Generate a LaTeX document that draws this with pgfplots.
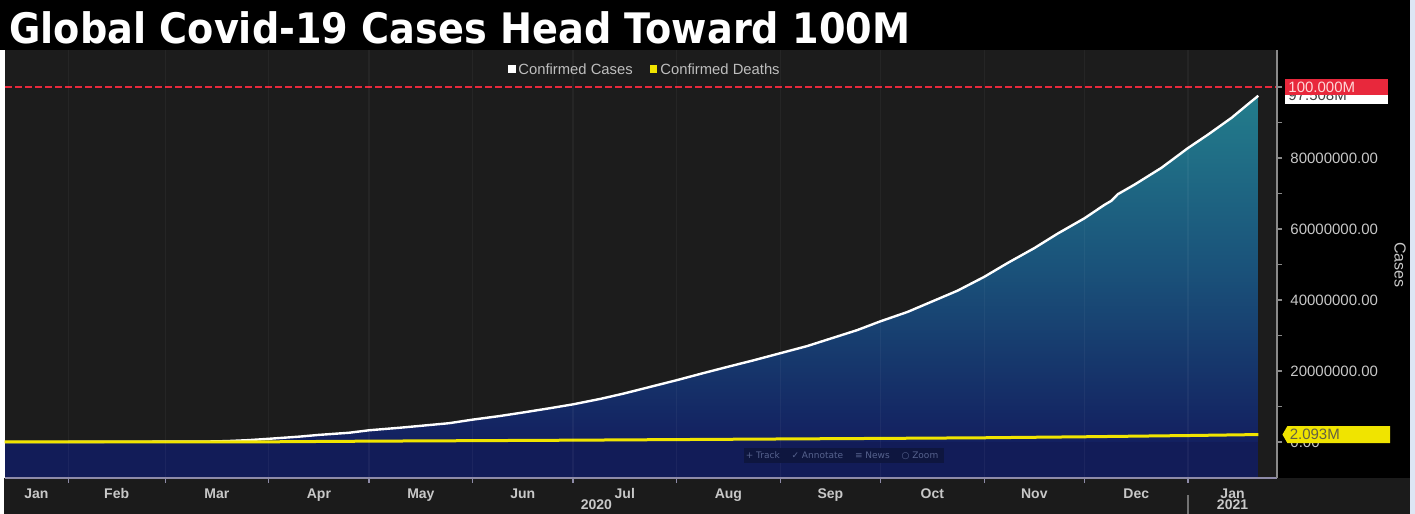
\documentclass[border=0pt]{standalone}
\usepackage{fontspec}
\setmainfont{Liberation Sans}
\newfontfamily\titlefont{DejaVu Sans}[FakeStretch=0.91]
\newfontfamily\symfont{DejaVu Sans}
\usepackage{pgfplots}
\pgfplotsset{compat=1.18}
\usepackage{pgfplotstable}
\usetikzlibrary{shapes.symbols}

\definecolor{bgplot}{HTML}{1C1C1C}
\definecolor{bgbottom}{HTML}{1B1B1B}
\definecolor{teal1}{HTML}{237D8C}
\definecolor{tealmid}{HTML}{1A527A}
\definecolor{navy1}{HTML}{132060}
\definecolor{navy0}{HTML}{121C58}
\definecolor{deathy}{HTML}{F0E400}
\definecolor{redline}{HTML}{E8283C}
\definecolor{ticktxt}{HTML}{C8C8C8}
\definecolor{legtxt}{HTML}{BEBEBE}
\definecolor{xline}{HTML}{8E8BA8}
\definecolor{yline}{HTML}{8A8A8A}
\definecolor{edge}{HTML}{DDE6F4}
\definecolor{toolbg}{HTML}{0E163F}
\definecolor{tooltxt}{HTML}{56628E}

% days since 1 Jan 2020
\pgfplotstableread{
day cases
12 0
21 555
31 12000
45 67000
60 88000
70 110000
75 170000
79 270000
85 530000
91 900000
100 1500000
106 2000000
115 2600000
121 3300000
130 4000000
137 4600000
145 5300000
152 6300000
160 7300000
167 8300000
175 9500000
182 10600000
190 12100000
197 13600000
205 15500000
213 17400000
221 19400000
228 21100000
236 23000000
244 25000000
252 27000000
259 29100000
267 31500000
274 34000000
282 36600000
289 39400000
297 42600000
305 46500000
312 50400000
320 54600000
327 58700000
335 63000000
341 66800000
343 67900000
345 69800000
350 72500000
358 77200000
366 82800000
372 86600000
379 91300000
384 95200000
387 97508000
}\casesdata

\pgfplotstableread{
day deaths
12 0
21 17
45 1500
60 3000
75 7000
91 47000
106 145000
121 235000
152 372000
182 510000
213 680000
244 850000
274 1010000
305 1190000
335 1470000
366 1820000
387 2093000
}\deathsdata

\begin{document}
\begin{tikzpicture}
\useasboundingbox (0,0) rectangle (707.5pt,257pt);
% backgrounds
\fill[black] (0,232pt) rectangle (707.5pt,257pt);
\fill[white] (0,0) rectangle (2pt,232pt);
\fill[bgbottom] (2pt,0) rectangle (705pt,18pt);
\fill[bgplot] (2.5pt,18pt) rectangle (638.5pt,232pt);
\fill[black] (638.5pt,18pt) rectangle (705pt,232pt);
\fill[edge] (705pt,0) rectangle (707.5pt,257pt);

\node[anchor=base west, text=white, inner sep=0,
      font=\titlefont\bfseries\fontsize{21}{24}\selectfont]
  at (4.5pt,235pt) {Global Covid-19 Cases Head Toward 100M};

\begin{axis}[
    at={(2.5pt,18pt)}, anchor=south west,
    scale only axis, width=636pt, height=214pt,
    xmin=12.1, xmax=392.6,
    ymin=-10.14e6, ymax=110.4e6,
    clip=false, axis on top,
    axis x line*=bottom, axis y line*=right,
    x axis line style={draw=xline, line width=0.8pt},
    y axis line style={draw=yline, line width=0.8pt},
    tick align=outside,
    major tick length=2.5pt, minor tick length=2.5pt,
    xtick={21.5,45.5,75.5,106,136.5,167,197.5,228.5,259,289.5,320,350.5,379.3},
    xticklabels={Jan,Feb,Mar,Apr,May,Jun,Jul,Aug,Sep,Oct,Nov,Dec,Jan},
    major x tick style={draw=none},
    minor xtick={31,60,91,121,152,182,213,244,274,305,335,366},
    minor x tick style={draw=xline, line width=0.6pt},
    xminorgrids=true,
    minor x grid style={draw=white, opacity=0.045, line width=0.6pt},
    ytick={0,2e7,4e7,6e7,8e7,1e8},
    yticklabels={0.00,20000000.00,40000000.00,60000000.00,80000000.00,100000000.00},
    minor ytick={1e7,3e7,5e7,7e7,9e7},
    y tick style={draw=yline, line width=0.6pt},
    scaled y ticks=false,
    xticklabel style={anchor=base, yshift=-8pt, text=ticktxt,
                      font=\bfseries\fontsize{7}{8}\selectfont},
    yticklabel style={anchor=west, inner sep=0pt, xshift=4pt, text=ticktxt,
                      font=\fontsize{7.5}{8}\selectfont},
    /pgf/number format/assume math mode=true,
]
\addplot[draw=none, fill=navy0, forget plot]
  coordinates {(12.1,-10.14e6) (387,-10.14e6) (387,0.3e6) (12.1,0.3e6)} -- cycle;
\addplot[draw=none, top color=teal1, bottom color=navy1, middle color=tealmid]
  table[x=day, y=cases] {\casesdata} \closedcycle;
\addplot[white, line width=1.2pt] table[x=day, y=cases] {\casesdata};
\addplot[deathy, line width=1.5pt] table[x=day, y=deaths] {\deathsdata};
\addplot[redline, line width=1.4pt, dash pattern=on 3.5pt off 1.5pt]
  coordinates {(12.1,1e8) (394.5,1e8)};

\coordinate (c100) at (axis cs:392.6,1e8);
\coordinate (clast) at (axis cs:392.6,97.508e6);
\coordinate (dlast) at (axis cs:392.6,2.093e6);
\coordinate (yr20) at (axis cs:189,-10.14e6);
\coordinate (yr21) at (axis cs:379.3,-10.14e6);
\coordinate (sep21) at (axis cs:366,-10.14e6);
\end{axis}

% value labels on the right axis
\node[anchor=west, fill=white, text=black!75, minimum width=51.5pt, minimum height=7.5pt,
      inner sep=1.5pt, align=left, text width=48.5pt,
      font=\fontsize{7.5}{8}\selectfont] at ([xshift=4pt]clast) {97.508M};
\node[anchor=west, fill=redline, text=red!15, minimum width=51.5pt, minimum height=7.5pt,
      inner sep=1.5pt, align=left, text width=48.5pt,
      font=\fontsize{7.5}{8}\selectfont] at ([xshift=4pt]c100) {100.000M};
\node[signal, signal to=west, signal pointer angle=120, anchor=west, fill=deathy,
      text=black!70!yellow, minimum width=53.5pt, minimum height=8.5pt,
      inner sep=1.2pt, align=left, text width=49pt,
      font=\fontsize{7.5}{8}\selectfont] at ([xshift=2.5pt]dlast) {2.093M};

\node[rotate=-90, text=ticktxt, font=\fontsize{8}{9}\selectfont] at (700pt,124.5pt) {Cases};

% year labels
\node[anchor=base, text=ticktxt, font=\bfseries\fontsize{7}{8}\selectfont] at ([yshift=-16pt]yr20) {2020};
\node[anchor=base, text=ticktxt, font=\bfseries\fontsize{7}{8}\selectfont] at ([yshift=-16pt]yr21) {2021};
\draw[black!55, line width=0.6pt] ([yshift=-18pt]sep21) -- ([yshift=-8.5pt]sep21);

% legend
\fill[white] (254pt,220.5pt) rectangle (258pt,224.5pt);
\node[anchor=west, inner sep=0, text=legtxt, font=\fontsize{7.4}{8}\selectfont]
  at (259pt,222.5pt) {Confirmed Cases};
\fill[deathy] (325pt,220.5pt) rectangle (328.5pt,224.5pt);
\node[anchor=west, inner sep=0, text=legtxt, font=\fontsize{7.4}{8}\selectfont]
  at (330pt,222.5pt) {Confirmed Deaths};

% chart toolbar
\fill[toolbg] (372pt,25.5pt) rectangle (472pt,33pt);
\node[text=tooltxt, font=\symfont\fontsize{4.5}{5}\selectfont] at (421pt,29.3pt)
  {+ Track \quad ✓ Annotate \quad ≡ News \quad ○ Zoom};
\end{tikzpicture}
\end{document}
